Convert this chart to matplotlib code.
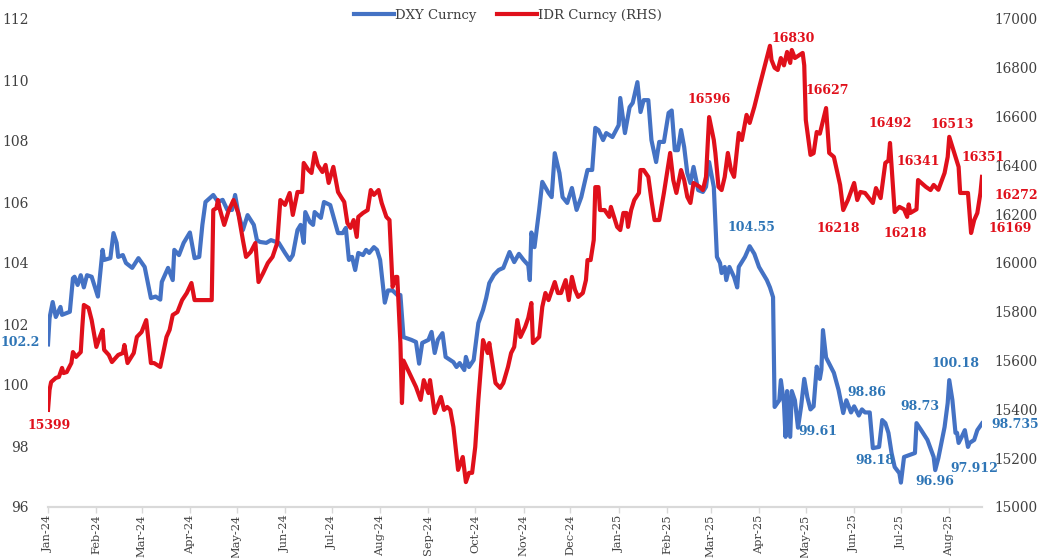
import matplotlib
matplotlib.use("Agg")
import matplotlib.pyplot as plt
import matplotlib.dates as mdates
import pandas as pd

plt.rcParams['font.family'] = ['DejaVu Serif']

# DXY index (left axis)
dxy_dates = [
    '2024-01-01', '2024-01-02', '2024-01-04', '2024-01-06', '2024-01-09', '2024-01-10', '2024-01-15',
    '2024-01-17', '2024-01-18', '2024-01-20', '2024-01-22', '2024-01-24', '2024-01-26', '2024-01-29',
    '2024-02-02', '2024-02-05', '2024-02-06', '2024-02-10', '2024-02-12', '2024-02-14', '2024-02-15',
    '2024-02-18', '2024-02-20', '2024-02-24', '2024-02-28', '2024-03-03', '2024-03-07', '2024-03-10',
    '2024-03-13', '2024-03-14', '2024-03-18', '2024-03-21', '2024-03-22', '2024-03-25', '2024-03-28',
    '2024-04-01', '2024-04-04', '2024-04-07', '2024-04-09', '2024-04-11', '2024-04-16', '2024-04-19',
    '2024-04-22', '2024-04-25', '2024-04-28', '2024-04-30', '2024-05-02', '2024-05-05', '2024-05-08',
    '2024-05-12', '2024-05-14', '2024-05-16', '2024-05-20', '2024-05-23', '2024-05-28', '2024-06-01',
    '2024-06-04', '2024-06-06', '2024-06-09', '2024-06-11', '2024-06-13', '2024-06-14', '2024-06-17',
    '2024-06-19', '2024-06-20', '2024-06-24', '2024-06-26', '2024-06-30', '2024-07-05', '2024-07-08',
    '2024-07-10', '2024-07-12', '2024-07-14', '2024-07-16', '2024-07-18', '2024-07-21', '2024-07-23',
    '2024-07-25', '2024-07-28', '2024-07-30', '2024-08-01', '2024-08-04', '2024-08-06', '2024-08-09',
    '2024-08-12', '2024-08-14', '2024-08-16', '2024-08-21', '2024-08-24', '2024-08-26', '2024-08-28',
    '2024-09-01', '2024-09-03', '2024-09-05', '2024-09-07', '2024-09-10', '2024-09-12', '2024-09-17',
    '2024-09-19', '2024-09-21', '2024-09-24', '2024-09-25', '2024-09-27', '2024-09-30', '2024-10-03',
    '2024-10-06', '2024-10-08', '2024-10-10', '2024-10-13', '2024-10-16', '2024-10-19', '2024-10-23',
    '2024-10-26', '2024-10-29', '2024-11-01', '2024-11-04', '2024-11-05', '2024-11-06', '2024-11-08',
    '2024-11-11', '2024-11-13', '2024-11-17', '2024-11-19', '2024-11-21', '2024-11-24', '2024-11-26',
    '2024-11-29', '2024-12-02', '2024-12-05', '2024-12-08', '2024-12-12', '2024-12-15', '2024-12-17',
    '2024-12-19', '2024-12-22', '2024-12-24', '2024-12-28', '2025-01-01', '2025-01-02', '2025-01-05',
    '2025-01-08', '2025-01-10', '2025-01-13', '2025-01-15', '2025-01-17', '2025-01-20', '2025-01-22',
    '2025-01-25', '2025-01-27', '2025-01-30', '2025-02-02', '2025-02-04', '2025-02-06', '2025-02-08',
    '2025-02-10', '2025-02-12', '2025-02-14', '2025-02-16', '2025-02-18', '2025-02-21', '2025-02-24',
    '2025-02-26', '2025-02-28', '2025-03-03', '2025-03-05', '2025-03-07', '2025-03-08', '2025-03-10',
    '2025-03-11', '2025-03-13', '2025-03-16', '2025-03-18', '2025-03-19', '2025-03-23', '2025-03-26',
    '2025-03-29', '2025-04-01', '2025-04-06', '2025-04-08', '2025-04-10', '2025-04-11', '2025-04-14',
    '2025-04-15', '2025-04-17', '2025-04-18', '2025-04-19', '2025-04-21', '2025-04-22', '2025-04-24',
    '2025-04-26', '2025-04-28', '2025-04-30', '2025-05-02', '2025-05-04', '2025-05-06', '2025-05-08',
    '2025-05-10', '2025-05-11', '2025-05-12', '2025-05-14', '2025-05-16', '2025-05-19', '2025-05-22',
    '2025-05-25', '2025-05-27', '2025-05-30', '2025-06-01', '2025-06-04', '2025-06-06', '2025-06-08',
    '2025-06-11', '2025-06-13', '2025-06-17', '2025-06-19', '2025-06-21', '2025-06-23', '2025-06-25',
    '2025-06-27', '2025-06-30', '2025-07-01', '2025-07-03', '2025-07-10', '2025-07-11', '2025-07-14',
    '2025-07-18', '2025-07-22', '2025-07-23', '2025-07-25', '2025-07-29', '2025-07-31', '2025-08-01',
    '2025-08-03', '2025-08-05', '2025-08-06', '2025-08-07', '2025-08-09', '2025-08-11', '2025-08-13',
    '2025-08-14', '2025-08-17', '2025-08-19', '2025-08-22',
]
dxy_vals = [
    101.33, 102.2, 102.72, 102.23, 102.56, 102.3, 102.4,
    103.5, 103.55, 103.28, 103.6, 103.2, 103.6, 103.55,
    102.9, 104.43, 104.1, 104.16, 104.98, 104.66, 104.2,
    104.26, 104.0, 103.84, 104.16, 103.87, 102.85, 102.9,
    102.8, 103.38, 103.84, 103.44, 104.43, 104.26, 104.66,
    105.0, 104.16, 104.2, 105.25, 106.0, 106.23, 106.0,
    106.07, 105.74, 105.74, 106.23, 105.64, 105.08, 105.57,
    105.25, 104.75, 104.69, 104.66, 104.75, 104.66, 104.33,
    104.1, 104.26, 105.08, 105.25, 104.66, 105.67, 105.34,
    105.25, 105.67, 105.48, 106.0, 105.9, 104.98, 104.98,
    105.15, 104.1, 104.2, 103.77, 104.33, 104.26, 104.43,
    104.33, 104.52, 104.43, 104.1, 102.7, 103.1, 103.1,
    102.95, 102.95, 101.57, 101.48, 101.41, 100.7, 101.38,
    101.48, 101.74, 101.05, 101.48, 101.7, 100.92, 100.75,
    100.59, 100.72, 100.49, 100.92, 100.59, 100.82, 102.03,
    102.46, 102.85, 103.34, 103.61, 103.77, 103.84, 104.36,
    104.03, 104.3, 104.1, 103.93, 103.44, 105.0, 104.52,
    105.74, 106.66, 106.3, 106.16, 107.6, 106.95, 106.16,
    105.97, 106.46, 105.74, 106.16, 107.05, 107.05, 108.43,
    108.36, 108.03, 108.26, 108.13, 108.52, 109.41, 108.26,
    109.11, 109.25, 109.93, 108.95, 109.34, 109.34, 108.03,
    107.31, 107.97, 107.97, 108.92, 109.0, 107.7, 107.7,
    108.36, 107.8, 106.95, 106.62, 107.15, 106.39, 106.33,
    106.5, 107.31, 106.49, 104.2, 104.0, 103.67, 103.87,
    103.44, 103.87, 103.54, 103.2, 103.87, 104.2, 104.55,
    104.3, 103.87, 103.44, 103.2, 102.88, 99.28, 99.5,
    100.16, 99.4, 98.3, 99.8, 98.3, 99.8, 99.5,
    98.6, 99.3, 100.2, 99.6, 99.2, 99.3, 100.6,
    100.2, 100.5, 101.8, 100.9, 100.7, 100.4, 99.84,
    99.08, 99.5, 99.1, 99.3, 99.0, 99.2, 99.1,
    99.1, 97.93, 97.97, 98.85, 98.75, 98.43, 97.77,
    97.31, 97.11, 96.8, 97.64, 97.77, 98.75, 98.52,
    98.2, 97.64, 97.21, 97.6, 98.62, 99.41, 100.16,
    99.51, 98.43, 98.43, 98.1, 98.3, 98.52, 97.97,
    98.1, 98.2, 98.52, 98.74,
]

# USD/IDR (right axis)
idr_dates = [
    '2024-01-01', '2024-01-02', '2024-01-03', '2024-01-06', '2024-01-08', '2024-01-10', '2024-01-11',
    '2024-01-13', '2024-01-16', '2024-01-17', '2024-01-19', '2024-01-22', '2024-01-23', '2024-01-24',
    '2024-01-27', '2024-01-29', '2024-02-01', '2024-02-03', '2024-02-05', '2024-02-06', '2024-02-09',
    '2024-02-11', '2024-02-15', '2024-02-18', '2024-02-19', '2024-02-21', '2024-02-25', '2024-02-27',
    '2024-03-01', '2024-03-04', '2024-03-07', '2024-03-09', '2024-03-13', '2024-03-17', '2024-03-19',
    '2024-03-21', '2024-03-24', '2024-03-27', '2024-03-30', '2024-04-02', '2024-04-04', '2024-04-15',
    '2024-04-16', '2024-04-18', '2024-04-19', '2024-04-20', '2024-04-23', '2024-04-26', '2024-04-29',
    '2024-05-02', '2024-05-05', '2024-05-07', '2024-05-10', '2024-05-13', '2024-05-15', '2024-05-18',
    '2024-05-21', '2024-05-24', '2024-05-27', '2024-05-29', '2024-06-01', '2024-06-04', '2024-06-06',
    '2024-06-09', '2024-06-12', '2024-06-13', '2024-06-16', '2024-06-18', '2024-06-20', '2024-06-22',
    '2024-06-25', '2024-06-27', '2024-06-29', '2024-07-02', '2024-07-05', '2024-07-07', '2024-07-09',
    '2024-07-11', '2024-07-13', '2024-07-15', '2024-07-17', '2024-07-18', '2024-07-21', '2024-07-24',
    '2024-07-26', '2024-07-28', '2024-07-31', '2024-08-02', '2024-08-05', '2024-08-07', '2024-08-09',
    '2024-08-11', '2024-08-12', '2024-08-14', '2024-08-15', '2024-08-16', '2024-08-21', '2024-08-24',
    '2024-08-27', '2024-08-29', '2024-09-01', '2024-09-02', '2024-09-05', '2024-09-09', '2024-09-11',
    '2024-09-13', '2024-09-15', '2024-09-17', '2024-09-20', '2024-09-23', '2024-09-25', '2024-09-27',
    '2024-09-29', '2024-10-01', '2024-10-03', '2024-10-06', '2024-10-09', '2024-10-10', '2024-10-12',
    '2024-10-14', '2024-10-17', '2024-10-19', '2024-10-22', '2024-10-24', '2024-10-26', '2024-10-28',
    '2024-10-30', '2024-11-02', '2024-11-04', '2024-11-06', '2024-11-07', '2024-11-11', '2024-11-13',
    '2024-11-15', '2024-11-17', '2024-11-21', '2024-11-23', '2024-11-25', '2024-11-28', '2024-11-30',
    '2024-12-02', '2024-12-04', '2024-12-06', '2024-12-09', '2024-12-11', '2024-12-12', '2024-12-14',
    '2024-12-16', '2024-12-17', '2024-12-19', '2024-12-20', '2024-12-23', '2024-12-26', '2024-12-27',
    '2024-12-31', '2025-01-02', '2025-01-04', '2025-01-06', '2025-01-07', '2025-01-09', '2025-01-11',
    '2025-01-14', '2025-01-15', '2025-01-17', '2025-01-20', '2025-01-22', '2025-01-24', '2025-01-27',
    '2025-01-30', '2025-02-03', '2025-02-05', '2025-02-07', '2025-02-10', '2025-02-12', '2025-02-14',
    '2025-02-16', '2025-02-18', '2025-02-22', '2025-02-24', '2025-02-26', '2025-02-28', '2025-03-03',
    '2025-03-04', '2025-03-06', '2025-03-08', '2025-03-10', '2025-03-12', '2025-03-14', '2025-03-16',
    '2025-03-19', '2025-03-21', '2025-03-24', '2025-03-26', '2025-03-29', '2025-04-01', '2025-04-04',
    '2025-04-08', '2025-04-09', '2025-04-11', '2025-04-13', '2025-04-15', '2025-04-17', '2025-04-19',
    '2025-04-21', '2025-04-22', '2025-04-24', '2025-04-29', '2025-04-30', '2025-05-01', '2025-05-04',
    '2025-05-06', '2025-05-08', '2025-05-10', '2025-05-14', '2025-05-16', '2025-05-19', '2025-05-23',
    '2025-05-25', '2025-05-28', '2025-06-01', '2025-06-03', '2025-06-05', '2025-06-08', '2025-06-13',
    '2025-06-15', '2025-06-18', '2025-06-21', '2025-06-23', '2025-06-24', '2025-06-27', '2025-06-30',
    '2025-07-03', '2025-07-05', '2025-07-06', '2025-07-07', '2025-07-11', '2025-07-12', '2025-07-17',
    '2025-07-20', '2025-07-22', '2025-07-25', '2025-07-29', '2025-07-31', '2025-08-01', '2025-08-05',
    '2025-08-07', '2025-08-08', '2025-08-13', '2025-08-15', '2025-08-17', '2025-08-19', '2025-08-21',
    '2025-08-22',
]
idr_vals = [
    15398, 15480, 15512, 15529, 15533, 15570, 15549,
    15553, 15590, 15635, 15615, 15635, 15738, 15828,
    15816, 15766, 15656, 15693, 15726, 15644, 15623,
    15594, 15623, 15631, 15664, 15590, 15631, 15697,
    15717, 15766, 15590, 15590, 15574, 15697, 15726,
    15787, 15799, 15848, 15877, 15918, 15848, 15848,
    16217, 16225, 16258, 16225, 16156, 16217, 16258,
    16205, 16094, 16025, 16045, 16082, 15922, 15959,
    16000, 16025, 16082, 16258, 16238, 16287, 16197,
    16291, 16291, 16410, 16381, 16369, 16451, 16402,
    16373, 16402, 16328, 16394, 16291, 16270, 16250,
    16164, 16144, 16176, 16107, 16189, 16205, 16217,
    16299, 16279, 16299, 16246, 16189, 16176, 15902,
    15943, 15943, 15672, 15426, 15600, 15533, 15492,
    15439, 15520, 15467, 15520, 15385, 15451, 15398,
    15410, 15398, 15328, 15152, 15205, 15102, 15140,
    15140, 15246, 15439, 15684, 15631, 15672, 15590,
    15508, 15488, 15508, 15574, 15631, 15656, 15766,
    15697, 15738, 15775, 15836, 15672, 15697, 15820,
    15877, 15848, 15922, 15877, 15877, 15930, 15848,
    15943, 15890, 15861, 15877, 15930, 16012, 16012,
    16094, 16311, 16311, 16217, 16217, 16189, 16230,
    16148, 16135, 16205, 16205, 16148, 16217, 16258,
    16287, 16381, 16381, 16353, 16258, 16176, 16176,
    16287, 16451, 16340, 16287, 16381, 16340, 16271,
    16246, 16328, 16312, 16299, 16353, 16598, 16504,
    16451, 16312, 16299, 16353, 16451, 16381, 16353,
    16533, 16504, 16607, 16574, 16640, 16717, 16791,
    16890, 16832, 16800, 16791, 16840, 16810, 16865,
    16820, 16873, 16840, 16861, 16810, 16586, 16443,
    16450, 16537, 16530, 16635, 16451, 16435, 16320,
    16217, 16258, 16328, 16258, 16291, 16287, 16246,
    16307, 16266, 16410, 16420, 16492, 16209, 16230,
    16220, 16189, 16240, 16205, 16220, 16340, 16312,
    16299, 16320, 16300, 16369, 16435, 16517, 16435,
    16394, 16287, 16287, 16123, 16176, 16205, 16287,
    16353,
]

# value labels: (text, date, value)
dxy_labels = [
    ('102.2', '2023-12-14', 101.38), ('104.55', '2025-03-27', 105.15),
    ('99.61', '2025-05-09', 98.46), ('98.86', '2025-06-09', 99.77),
    ('98.18', '2025-06-14', 97.51), ('98.73', '2025-07-13', 99.31),
    ('96.96', '2025-07-23', 96.85), ('100.18', '2025-08-05', 100.72),
    ('97.912', '2025-08-17', 97.25), ('98.735', '2025-09-12', 98.72),
]
idr_labels = [
    ('15399', '2024-01-02', 15336), ('16596', '2025-02-28', 16672),
    ('16830', '2025-04-23', 16922), ('16627', '2025-05-15', 16709),
    ('16218', '2025-05-22', 16143), ('16492', '2025-06-24', 16570),
    ('16218', '2025-07-04', 16119), ('16341', '2025-07-12', 16418),
    ('16513', '2025-08-03', 16566), ('16351', '2025-08-23', 16432),
    ('16272', '2025-09-13', 16276), ('16169', '2025-09-09', 16143),
]

blue = '#4472C4'
red = '#E0101B'
blue_txt = '#2E75B6'
tick_col = '#404040'

fig = plt.figure(figsize=(10.39, 5.58), dpi=100)
ax = fig.add_axes([48 / 1039, 51 / 558, 934 / 1039, 488 / 558])
ax2 = ax.twinx()

l1, = ax.plot(pd.to_datetime(dxy_dates), dxy_vals, color=blue, lw=3, label='DXY Curncy')
l2, = ax2.plot(pd.to_datetime(idr_dates), idr_vals, color=red, lw=3, label='IDR Curncy (RHS)')

ax.set_xlim(pd.Timestamp('2024-01-01'), pd.Timestamp('2025-08-22'))
ax.set_ylim(96, 112)
ax.set_yticks(range(96, 113, 2))
ax2.set_ylim(15000, 17000)
ax2.set_yticks(range(15000, 17001, 200))

ax.xaxis.set_major_locator(mdates.MonthLocator())
ax.xaxis.set_major_formatter(mdates.DateFormatter('%b-%y'))

for a in (ax, ax2):
    for s in ('top', 'left', 'right'):
        a.spines[s].set_visible(False)
    a.spines['bottom'].set_color('#D9D9D9')
    a.spines['bottom'].set_linewidth(1.5)

ax.tick_params(axis='x', length=4, width=1, color='#D9D9D9', labelrotation=90,
               labelsize=8.2, labelcolor=tick_col, pad=1.5)
ax.tick_params(axis='y', length=0, pad=14, labelsize=10, labelcolor=tick_col)
ax2.tick_params(axis='y', length=0, pad=9, labelsize=9.8, labelcolor=tick_col)

for txt, d, v in dxy_labels:
    ax.text(pd.Timestamp(d), v, txt, color=blue_txt, fontsize=9, fontweight='bold',
            ha='center', va='center', clip_on=False)
for txt, d, v in idr_labels:
    ax2.text(pd.Timestamp(d), v, txt, color=red, fontsize=9, fontweight='bold',
             ha='center', va='center', clip_on=False)

fig.legend(handles=[l1, l2], loc='upper center', bbox_to_anchor=(0.489, 1.005), ncol=2,
           frameon=False, fontsize=9.5, handlelength=3.0, columnspacing=1.6,
           handletextpad=0.1, labelcolor=tick_col)

fig.savefig('out.png', dpi=100)
